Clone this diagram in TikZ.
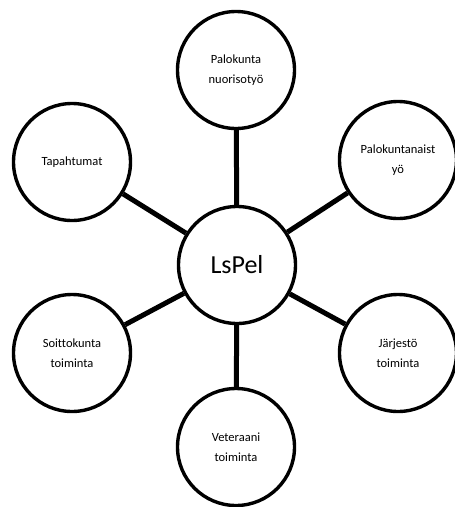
\documentclass[tikz,border=0pt]{standalone}
\usepackage{fontspec}
\setmainfont[Ligatures=NoCommon]{Carlito}

\begin{document}
\begin{tikzpicture}[x=1pt, y=-1pt, every node/.style={circle, draw=black, line width=3.4pt, minimum size=117pt, inner sep=0pt, align=center, font=\fontsize{12.5}{20}\selectfont}, every path/.style={draw=black, line width=5pt}]
			\useasboundingbox[draw=none] (0,0) rectangle (455,507);

			\node[font=\fontsize{26}{30}\selectfont] (lspel) at (237,265){LsPel};
			\node (nuoriso) at (236,70){Palokunta\\nuorisotyö};
			\node (naiset) at (398,160){Palokuntanaist\\yö};
			\node (tapaht) at (72,162){Tapahtumat};
			\node (soitto) at (72,353){Soittokunta\\toiminta};
			\node (jarjesto) at (398,353){Järjestö\\toiminta};
			\node (veteraani) at (236,447){Veteraani\\toiminta};

			\path (lspel) edge (nuoriso);
			\path (lspel) edge (naiset);
			\path (lspel) edge (tapaht);
			\path (lspel) edge (soitto);
			\path (lspel) edge (jarjesto);
			\path (lspel) edge (veteraani);
			\end{tikzpicture}
\end{document}
